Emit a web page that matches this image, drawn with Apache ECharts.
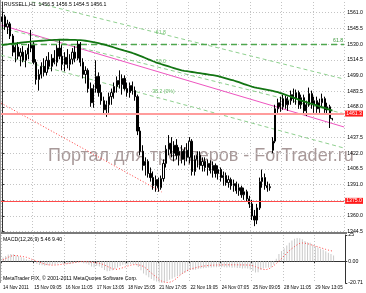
<!DOCTYPE html>
<html><head><meta charset="utf-8">
<script src="https://cdn.jsdelivr.net/npm/echarts@6/dist/echarts.min.js"></script>
<style>html,body{margin:0;padding:0;background:#fff}#c{width:366px;height:293px}</style>
</head><body><div id="c"></div>
<script>
// ---------- DATA ----------
const symbolName = 'RUSSELL,H1';
const dateLabels = ['14 Nov 2011','15 Nov 09:05','16 Nov 11:05','17 Nov 13:05','18 Nov 15:05','21 Nov 17:05','22 Nov 19:05','24 Nov 07:05','25 Nov 09:05','28 Nov 11:05','29 Nov 13:05'];
const barOpen = [1552,1557,1547,1550,1538,1522,1527,1518,1522,1514,1520,1526,1530,1512,1495,1500,1508,1502,1514,1508,1516,1512,1526,1518,1510,1517,1510,1515,1522,1516,1530,1512,1500,1504,1486,1472,1486,1498,1482,1474,1465,1470,1478,1482,1488,1494,1490,1496,1486,1482,1489,1484,1478,1444,1424,1410,1414,1402,1398,1390,1396,1388,1397,1412,1426,1432,1422,1430,1420,1424,1416,1425,1418,1434,1404,1416,1420,1410,1414,1408,1412,1405,1410,1402,1406,1398,1400,1393,1396,1390,1392,1385,1388,1381,1384,1377,1372,1360,1356,1368,1394,1398,1390,1388,1425,1434,1466,1472,1468,1476,1470,1474,1480,1476,1482,1470,1477,1464,1470,1481,1470,1474,1466,1472,1476,1465,1468,1456.5];
const barClose = [1557,1547,1550,1538,1522,1527,1518,1522,1514,1520,1526,1530,1512,1495,1500,1508,1502,1514,1508,1516,1512,1526,1518,1510,1517,1510,1515,1522,1516,1530,1512,1500,1504,1486,1472,1486,1498,1482,1474,1465,1470,1478,1482,1488,1494,1490,1496,1486,1482,1489,1484,1478,1444,1424,1410,1414,1402,1398,1390,1396,1388,1397,1412,1426,1432,1422,1430,1420,1424,1416,1425,1418,1434,1404,1416,1420,1410,1414,1408,1412,1405,1410,1402,1406,1398,1400,1393,1396,1390,1392,1385,1388,1381,1384,1377,1372,1360,1356,1368,1394,1398,1390,1388,1389,1434,1466,1472,1468,1476,1470,1474,1480,1476,1482,1470,1477,1464,1470,1481,1470,1474,1466,1472,1476,1465,1468,1456.5,1456.1];
const barLow = [1545,1544,1540,1535,1518,1512,1515,1508,1512,1507,1515,1522,1510,1490,1484,1496,1498,1499,1505,1503,1510,1508,1515,1504,1503,1506,1504,1510,1512,1514,1508,1496,1491,1482,1468,1467,1482,1478,1470,1460,1458,1462,1470,1476,1482,1486,1480,1484,1478,1477,1480,1474,1440,1420,1405,1400,1398,1394,1386,1384,1384,1386,1394,1408,1420,1418,1414,1416,1410,1412,1410,1414,1412,1400,1400,1408,1406,1404,1404,1400,1402,1398,1398,1396,1394,1390,1390,1388,1386,1384,1382,1380,1378,1376,1374,1368,1356,1350,1352,1366,1388,1386,1384,1385,1422,1432,1462,1463,1465,1466,1464,1470,1472,1470,1466,1466,1460,1459,1468,1466,1462,1462,1462,1468,1462,1460,1447,1454.5];
const barHigh = [1561,1559,1554,1552,1540,1530,1532,1526,1528,1524,1530,1544,1532,1515,1505,1512,1516,1518,1522,1520,1524,1530,1534,1530,1522,1525,1520,1526,1528,1534,1532,1516,1508,1506,1492,1490,1514,1502,1490,1478,1474,1482,1486,1492,1498,1504,1500,1499,1492,1492,1493,1488,1480,1448,1430,1418,1416,1408,1404,1400,1398,1400,1416,1430,1440,1438,1434,1436,1428,1430,1428,1432,1438,1436,1420,1424,1424,1418,1418,1416,1415,1414,1412,1410,1408,1404,1403,1400,1398,1396,1394,1392,1390,1388,1386,1380,1376,1366,1372,1398,1406,1402,1394,1392,1438,1470,1476,1478,1480,1479,1478,1484,1486,1485,1484,1480,1480,1474,1487,1484,1478,1478,1476,1481,1478,1472,1470,1456.5];
const maValues = [1529.0,1529.4,1529.8,1530.1,1530.4,1530.7,1531.0,1531.3,1531.6,1531.9,1532.2,1532.5,1532.7,1532.9,1533.1,1533.3,1533.5,1533.7,1533.9,1534.0,1534.1,1534.2,1534.3,1534.3,1534.3,1534.3,1534.2,1534.2,1534.1,1534.0,1533.9,1533.6,1533.3,1532.9,1532.5,1532.0,1531.5,1531.0,1530.3,1529.6,1528.9,1528.2,1527.4,1526.6,1525.8,1525.0,1524.3,1523.5,1522.8,1522.0,1521.2,1520.3,1519.3,1518.3,1517.3,1516.2,1515.1,1514.1,1513.0,1512.0,1511.1,1510.3,1509.5,1508.7,1507.9,1507.1,1506.3,1505.5,1504.8,1504.1,1503.6,1503.2,1502.8,1502.4,1502.0,1501.6,1501.2,1500.8,1500.4,1500.0,1499.6,1499.2,1498.8,1498.2,1497.5,1496.8,1496.1,1495.4,1494.7,1494.0,1493.2,1492.3,1491.4,1490.5,1489.6,1488.8,1488.0,1487.3,1486.7,1486.2,1485.7,1485.2,1484.7,1484.2,1483.7,1483.1,1482.4,1481.6,1480.7,1479.8,1478.9,1478.0,1477.0,1476.0,1475.0,1474.1,1473.3,1472.5,1471.7,1470.9,1470.1,1469.3,1468.5,1467.7,1466.9,1466.0,1465.1,1464.3];
const macdMain = [3.5,5.0,6.4,7.0,6.6,5.8,4.8,3.8,2.8,1.8,1.0,1.4,-0.2,-2.4,-3.6,-3.8,-4.2,-3.8,-3.4,-3.1,-3.0,-2.2,-1.6,-2.2,-2.4,-2.6,-2.4,-1.8,-1.4,-0.4,-0.8,-1.8,-2.2,-3.4,-5.0,-5.6,-4.4,-5.0,-6.4,-8.4,-9.6,-9.4,-8.6,-7.4,-6.0,-4.6,-3.4,-3.0,-3.0,-2.6,-2.6,-3.0,-5.4,-8.6,-11.6,-13.4,-15.2,-16.8,-18.4,-19.2,-20.2,-20.71,-20.2,-19.0,-17.6,-16.6,-15.2,-14.2,-13.2,-12.0,-10.6,-9.6,-8.0,-8.4,-8.2,-7.4,-7.0,-6.6,-6.4,-6.0,-6.0,-5.6,-5.8,-5.4,-5.8,-5.6,-6.0,-5.8,-6.2,-6.0,-6.4,-6.4,-6.8,-6.6,-7.0,-7.8,-9.4,-10.8,-10.4,-8.2,-6.8,-6.2,-6.0,-5.6,-3.0,2.4,7.0,9.8,12.4,15.0,17.6,19.8,21.4,22.2,22.0,21.0,19.4,18.0,17.6,16.0,14.6,13.0,12.0,11.0,9.6,8.2,6.8,5.46];
const macdSignal = [1.2,2.6,3.8,4.8,5.5,5.4,5.1,4.7,4.3,3.8,2.9,2.0,1.0,0.0,-0.9,-1.8,-2.6,-3.2,-3.6,-3.7,-3.6,-3.4,-3.1,-2.8,-2.5,-2.2,-1.8,-1.4,-1.0,-0.6,-0.4,-0.3,-0.4,-0.6,-0.9,-1.2,-1.5,-1.9,-2.6,-3.6,-4.8,-6.0,-7.1,-7.8,-7.6,-7.0,-6.2,-5.3,-4.5,-3.8,-3.3,-3.2,-3.4,-4.0,-5.0,-6.8,-9.0,-11.2,-13.3,-15.2,-17.4,-19.0,-19.8,-20.2,-20.0,-19.2,-17.6,-15.6,-13.4,-11.4,-9.8,-8.6,-7.6,-6.8,-6.1,-5.5,-5.0,-4.6,-4.3,-4.0,-3.8,-3.7,-3.6,-3.5,-3.5,-3.4,-3.4,-3.4,-3.4,-3.4,-3.4,-3.5,-3.5,-3.5,-3.6,-3.7,-4.3,-5.2,-6.2,-7.1,-7.8,-8.0,-7.4,-6.0,-4.2,-2.2,0.0,2.6,5.2,7.7,10.0,12.1,14.0,15.7,17.0,17.4,17.2,16.7,16.0,15.2,14.4,13.7,12.9,12.1,11.3,10.6,10.0,9.4];
const priceGridValues = [1344.5,1360.0,1375.5,1391.0,1406.5,1422.0,1437.5,1452.7,1468.0,1483.5,1499.0,1514.5,1530.0,1545.5,1561.0];
const priceLabelValues = [1344.5,1360.0,1391.0,1406.5,1422.0,1437.5,1468.0,1483.5,1499.0,1514.5,1530.0,1545.5,1561.0];
const macdLabelValues = [-20.71, 0, 25];
// drawn objects (bar index, price)
const pinkTrend = [[-0.5,1548.8],[131.5,1448.0]];
const redDottedTrend = [[-0.5,1471.7],[61.3,1383.8]];
const fiboUpper = [[8.7,1573.6],[131.5,1495.4]];
const fiboMiddle = [[-0.5,1546.1],[131.5,1461.1]];
const fiboLower = [[-0.5,1519.1],[131.5,1427.2]];
const levelRed = 1461.3;
const levelRed2 = 1375.0;
const levelFib = 1530.0;
const bidPrice = 1456.1;
const fiboTexts = [['61.8',61,1541],['50.0',61,1512.3],['38.2 (0%)',62,1482.6]];
const fibLevelText = '61.8';
const macdTitle = 'MACD(12,26,9)';
const watermark = 'Портал для трейдеров - ForTrader.ru';
const footer = 'MetaTrader FIX, © 2001-2011 MetaQuotes Software Corp.';

// ---------- CHART ----------
const N = 132, STEP = 12;
const cats = Array.from({length: N}, (_, i) => String(i));
const candles = barOpen.map((o, i) => [o, barClose[i], barLow[i], barHigh[i]]);
const last = barOpen.length - 1;
const F = '"Liberation Sans", Arial, sans-serif';
const small = 5.2;
const gridLine = {show: true, lineStyle: {color: '#c4c4c4', type: [1, 2], width: 1}};
const vInterval = (i) => i % STEP === 0;

const chart = echarts.init(document.getElementById('c'), null, {renderer: 'canvas'});
const trend = (data, color, type, width) => ({
  type: 'line', xAxisIndex: 2, yAxisIndex: 0, data, symbol: 'none', silent: true,
  lineStyle: {color, type, width}, z: 3, animation: false
});
const flag = (v, bg, fg) => ({
  yAxis: v,
  label: {show: true, position: 'end', distance: 1, formatter: v.toFixed(1), backgroundColor: bg, color: fg,
          fontSize: small, fontFamily: F, padding: [1, 1, 0, 1]}
});

chart.setOption({
  animation: false,
  backgroundColor: '#fff',
  grid: [
    {left: 1, right: 20, top: 2, height: 230},
    {left: 1, right: 20, top: 235, height: 48}
  ],
  xAxis: [
    {type: 'category', gridIndex: 0, data: cats, boundaryGap: true,
     axisLine: {show: false}, axisTick: {show: false}, axisLabel: {show: false},
     splitLine: Object.assign({interval: vInterval}, gridLine)},
    {type: 'category', gridIndex: 1, data: cats, boundaryGap: true,
     axisLine: {show: true, lineStyle: {color: '#333', width: 1}},
     axisTick: {show: true, interval: vInterval, length: 2, lineStyle: {color: '#333'}},
     axisLabel: {show: true, interval: vInterval, align: 'left', margin: 2, fontSize: 4.6, fontFamily: F, color: '#000',
                 formatter: (v, i) => dateLabels[Math.round(i / STEP)] || ''},
     splitLine: Object.assign({interval: vInterval}, gridLine)},
    {type: 'value', gridIndex: 0, min: -0.5, max: N - 0.5, show: false}
  ],
  yAxis: [
    {type: 'value', gridIndex: 0, position: 'right', min: 1344.2, max: 1571.6, scale: true,
     axisLine: {show: true, lineStyle: {color: '#333'}},
     axisTick: {show: true, length: 2, customValues: priceGridValues, lineStyle: {color: '#333'}},
     axisLabel: {show: true, customValues: priceLabelValues, formatter: v => v.toFixed(1), margin: 3,
                 fontSize: small, fontFamily: F, color: '#000'},
     splitLine: gridLine},
    {type: 'value', gridIndex: 1, position: 'right', min: -20.71, max: 25,
     axisLine: {show: true, lineStyle: {color: '#333'}},
     axisTick: {show: true, length: 2, customValues: macdLabelValues, lineStyle: {color: '#333'}},
     axisLabel: {show: true, customValues: macdLabelValues, margin: 3, fontSize: small, fontFamily: F, color: '#000',
                 formatter: v => v === 0 ? '0.00' : (Number.isInteger(v) ? String(v) : v.toFixed(2))},
     splitLine: {show: false}}
  ],
  series: [
    {type: 'candlestick', xAxisIndex: 0, yAxisIndex: 0, data: candles, barWidth: 1.6, z: 4,
     itemStyle: {color: '#ffffff', color0: '#000000', borderColor: '#000000', borderColor0: '#000000', borderWidth: 1},
     markLine: {symbol: ['none', 'none'], silent: true, animation: false,
       data: [
         Object.assign(flag(levelRed, '#ff1a1a', '#fff'), {lineStyle: {color: '#ff9c9c', width: 2, type: 'solid'}}),
         Object.assign(flag(levelRed2, '#ff1a1a', '#fff'), {lineStyle: {color: '#ff4a4a', width: 1, type: 'solid'}}),
         {yAxis: levelFib, lineStyle: {color: '#4fa84f', width: 1.3, type: [6, 4]},
          label: {show: true, position: 'insideEndTop', distance: 1, formatter: fibLevelText, color: '#3c963c', fontSize: small, fontFamily: F}},
         Object.assign(flag(bidPrice, '#000', '#fff'), {lineStyle: {color: '#000', width: 0, opacity: 0}})
       ]}},
    {type: 'line', xAxisIndex: 0, yAxisIndex: 0, data: maValues, symbol: 'none', z: 5,
     lineStyle: {color: '#137513', width: 1.8}},
    trend(pinkTrend, '#ee55c0', 'solid', 1),
    trend(redDottedTrend, '#ff3c3c', [1, 2], 1),
    Object.assign(trend(fiboUpper, '#8fd08f', [4, 3], 1), {
      markPoint: {symbol: 'circle', symbolSize: 0.1, silent: true, itemStyle: {color: 'rgba(0,0,0,0)'},
        label: {show: true, position: 'inside', formatter: p => p.name, color: '#6cbf6c', fontSize: small, fontFamily: F},
        data: fiboTexts.map(t => ({name: t[0], coord: [t[1], t[2]]}))}
    }),
    trend(fiboMiddle, '#8fd08f', [4, 3], 1),
    trend(fiboLower, '#8fd08f', [4, 3], 1),
    {type: 'bar', xAxisIndex: 1, yAxisIndex: 1, data: macdMain, barWidth: 1, itemStyle: {color: '#cacaca'}},
    {type: 'line', xAxisIndex: 1, yAxisIndex: 1, data: macdSignal, symbol: 'none',
     lineStyle: {color: '#ff4040', width: 1, type: [1, 2]}}
  ],
  graphic: [
    {type: 'text', left: 48, top: 147, z: 0, silent: true,
     style: {text: watermark, font: '18px "Liberation Sans", Arial, sans-serif', fill: '#a89999'}},
    {type: 'rect', left: 0, top: 232, z: 10, shape: {width: 347, height: 2}, style: {fill: '#7a7a7a'}},
    {type: 'rect', left: 0, top: 0, z: 10, shape: {width: 1, height: 283}, style: {fill: '#9a9a9a'}},
    {type: 'text', left: 4, top: 2, z: 10,
     style: {text: symbolName + '  ' + [barOpen[last], barHigh[last], barLow[last], barClose[last]].map(v => v.toFixed(1)).join(' '),
             font: small + 'px "Liberation Sans", Arial, sans-serif', fill: '#000'}},
    {type: 'text', left: 3, top: 237, z: 10,
     style: {text: macdTitle + ' ' + macdMain[last].toFixed(2) + ' ' + macdSignal[last].toFixed(2),
             font: small + 'px "Liberation Sans", Arial, sans-serif', fill: '#000'}},
    {type: 'text', left: 3, top: 276, z: 10,
     style: {text: footer, font: small + 'px "Liberation Sans", Arial, sans-serif', fill: '#000'}}
  ]
});
</script></body></html>
